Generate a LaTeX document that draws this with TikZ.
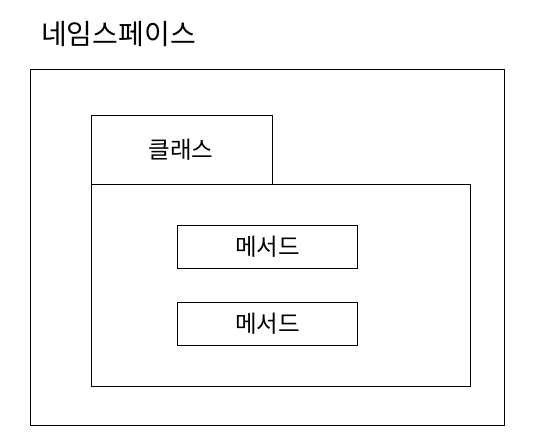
\documentclass[tikz,border=0pt]{standalone}
\usepackage{fontspec}
\setmainfont{Noto Sans CJK KR}
\begin{document}
\begin{tikzpicture}[x=1pt,y=-1pt,
  box/.style={draw=black,line width=1pt,fill=white,inner sep=0pt,anchor=north west},
  lbl/.style={font=\fontsize{23.5}{26}\selectfont,inner sep=0pt}]
\useasboundingbox (0,0) rectangle (533,445);
\node[anchor=west,inner sep=0pt,font=\fontsize{28}{31}\selectfont] (title) at (41,34) {네임스페이스};
\node[box,minimum width=474pt,minimum height=356pt] (ns) at (30,69) {};
\node[box,minimum width=181pt,minimum height=69pt] (tab) at (91,115) {};
\node[lbl] (tablbl) at (181,150) {클래스};
\node[box,minimum width=379pt,minimum height=202pt] (body) at (91,184) {};
\node[box,minimum width=180pt,minimum height=43pt] (m1) at (177,225) {};
\node[lbl] at (m1.center) {메서드};
\node[box,minimum width=180pt,minimum height=43pt] (m2) at (177,302) {};
\node[lbl] at (m2.center) {메서드};
\end{tikzpicture}
\end{document}
